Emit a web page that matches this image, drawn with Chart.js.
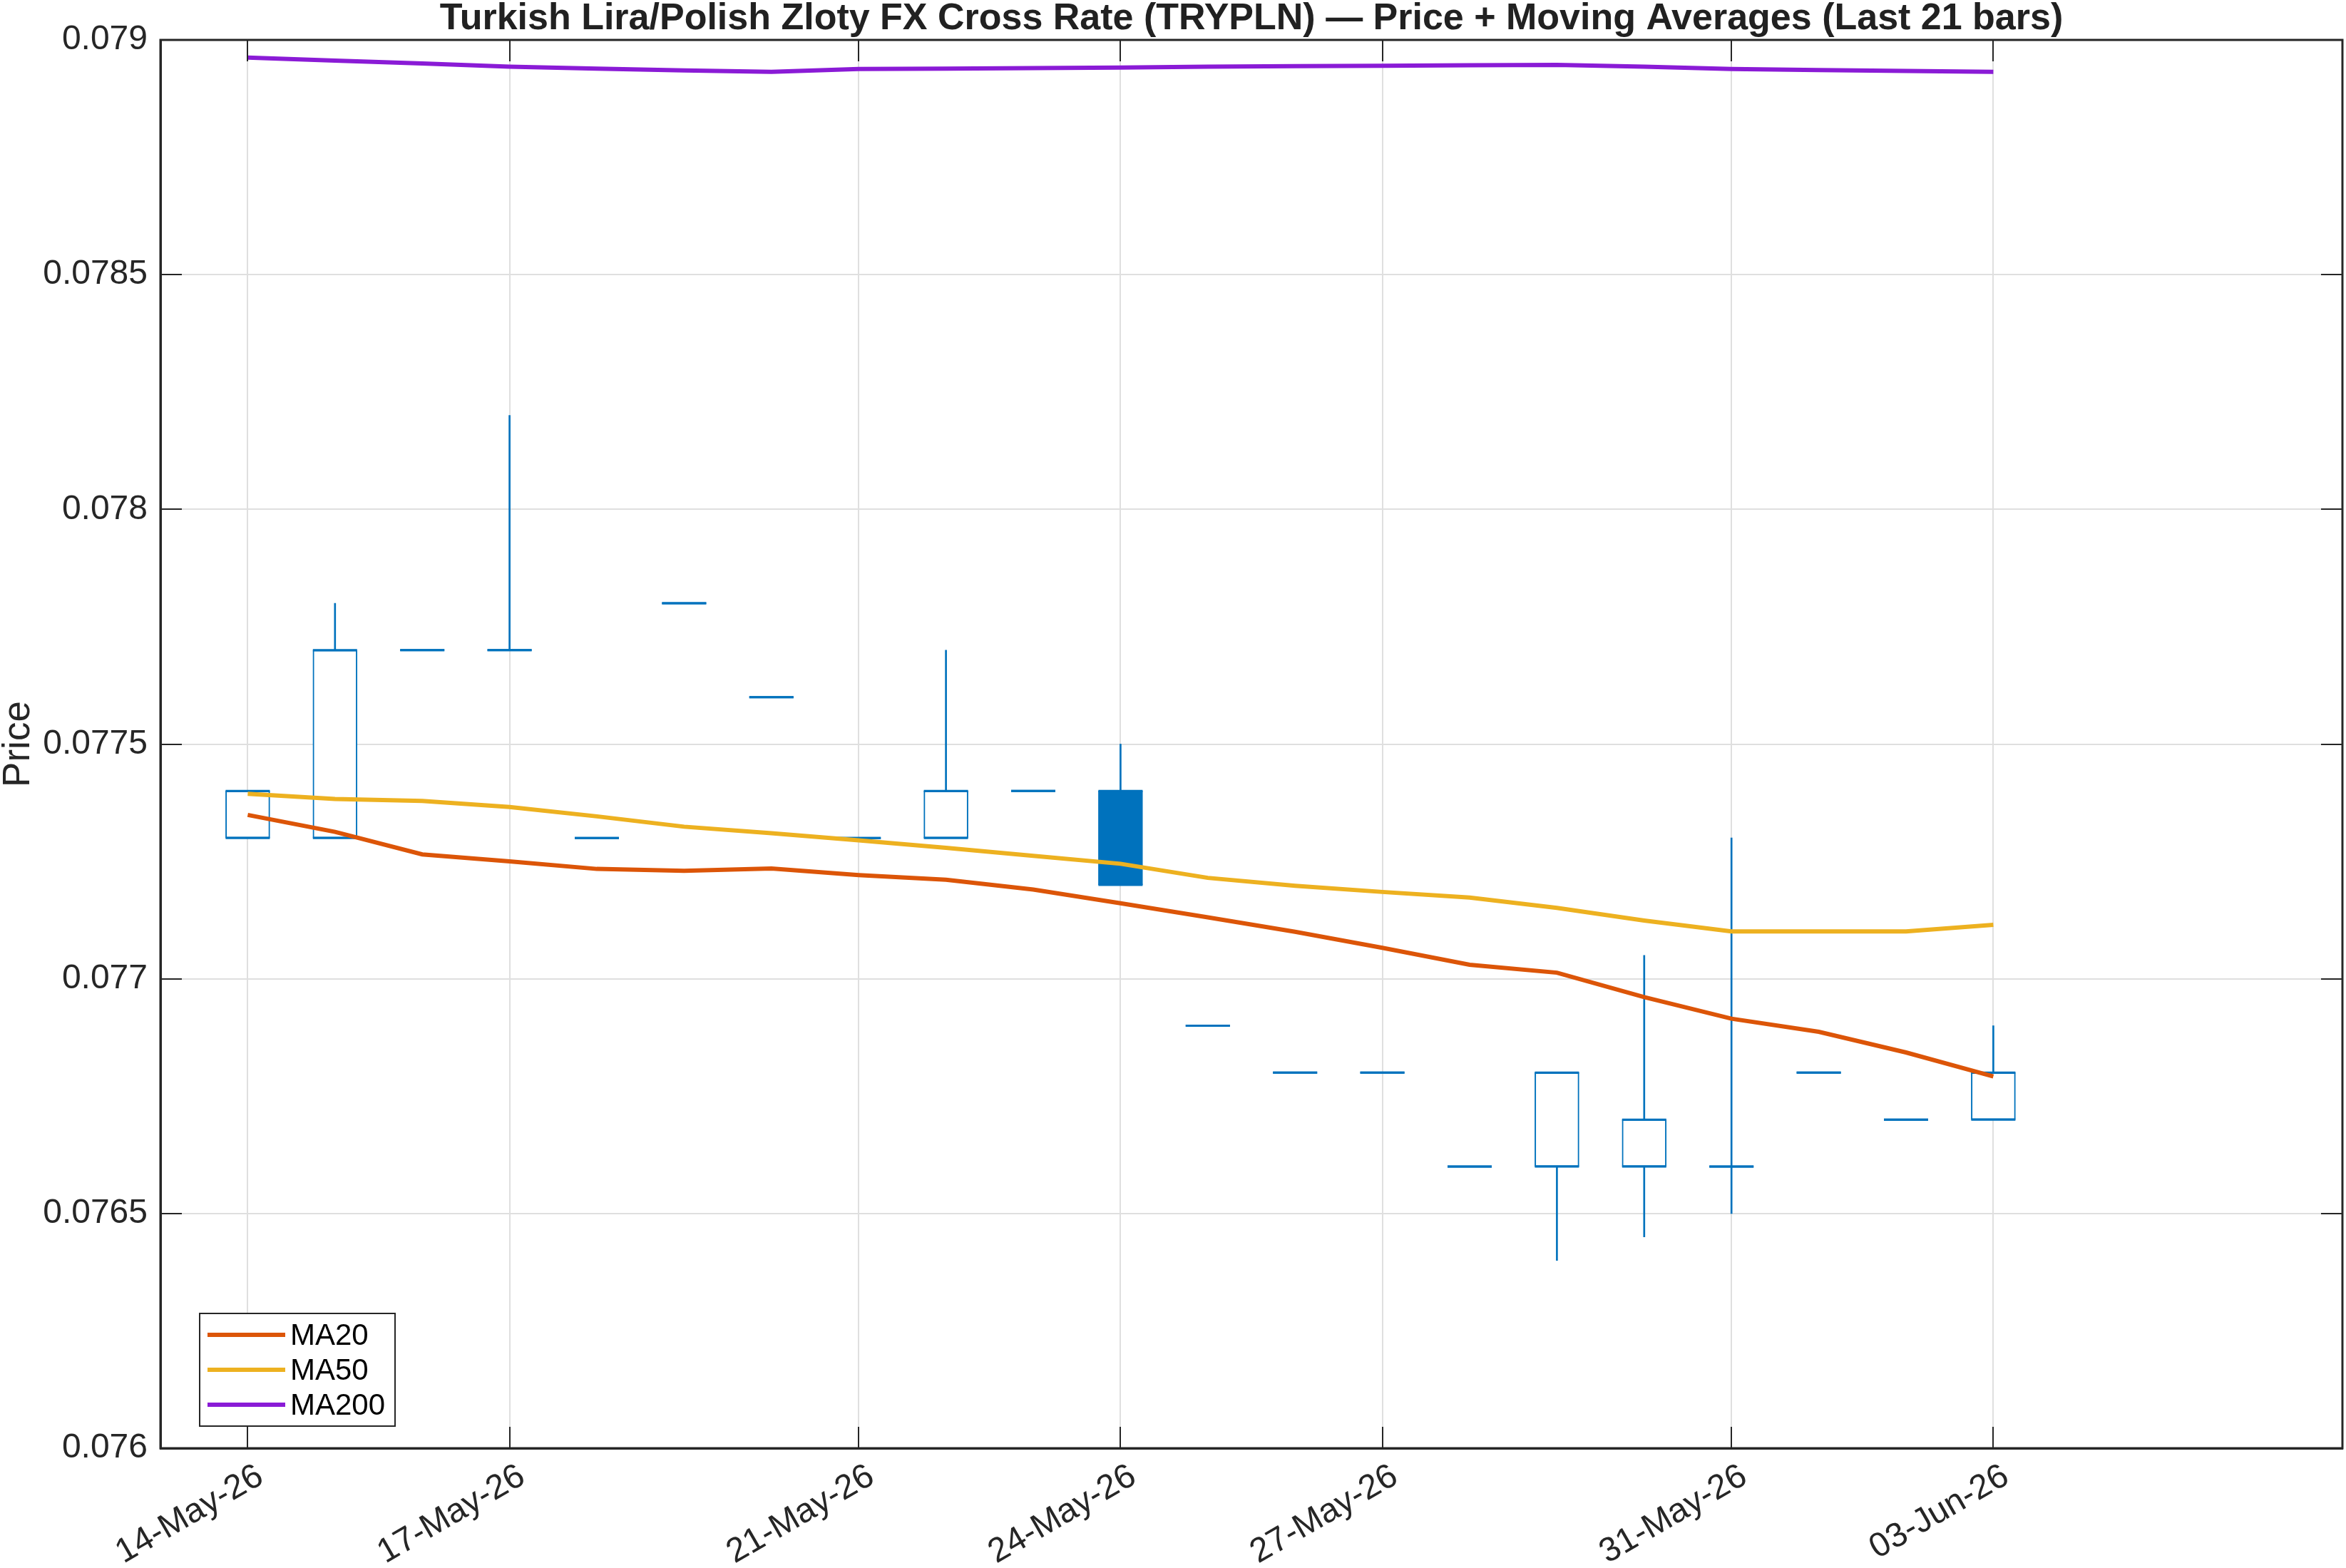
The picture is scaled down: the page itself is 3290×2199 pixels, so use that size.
<!DOCTYPE html>
<html>
<head>
<meta charset="utf-8">
<script src="https://cdn.jsdelivr.net/npm/chart.js@4/dist/chart.umd.min.js"></script>
<style>
html,body{margin:0;padding:0;background:#fff;overflow:hidden;}
canvas{display:block;}
</style>
</head>
<body>
<canvas id="c" width="3290" height="2199"></canvas>
<script>
const dates = ['14-May-26','15-May-26','16-May-26','17-May-26','18-May-26','19-May-26','20-May-26',
  '21-May-26','22-May-26','23-May-26','24-May-26','25-May-26','26-May-26','27-May-26','28-May-26',
  '29-May-26','30-May-26','31-May-26','01-Jun-26','02-Jun-26','03-Jun-26'];
const tickDates = ['14-May-26','17-May-26','21-May-26','24-May-26','27-May-26','31-May-26','03-Jun-26'];
const yTicks = [0.076,0.0765,0.077,0.0775,0.078,0.0785,0.079];

const openP  = [0.0773,0.0773,0.0777,0.0777,0.0773,0.0778,0.0776,0.0773,0.0773,0.0774,0.0774,0.0769,0.0768,0.0768,0.0766,0.0766,0.0766,0.0766,0.0768,0.0767,0.0767];
const closeP = [0.0774,0.0777,0.0777,0.0777,0.0773,0.0778,0.0776,0.0773,0.0774,0.0774,0.0772,0.0769,0.0768,0.0768,0.0766,0.0768,0.0767,0.0766,0.0768,0.0767,0.0768];
const highP  = [0.0774,0.0778,0.0777,0.0782,0.0773,0.0778,0.0776,0.0773,0.0777,0.0774,0.0775,0.0769,0.0768,0.0768,0.0766,0.0768,0.07705,0.0773,0.0768,0.0767,0.0769];
const lowP   = [0.0773,0.0773,0.0777,0.0777,0.0773,0.0778,0.0776,0.0773,0.0773,0.0774,0.0772,0.0769,0.0768,0.0768,0.0766,0.0764,0.07645,0.0765,0.0768,0.0767,0.0767];

const ma20  = [0.077349,0.077313,0.077265,0.07725,0.077234,0.07723,0.077235,0.077221,0.077211,0.07719,0.077161,0.077131,0.0771,0.077066,0.07703,0.077013,0.076961,0.076915,0.076887,0.076843,0.076792];
const ma50  = [0.077394,0.077383,0.077379,0.077366,0.077346,0.077324,0.07731,0.077295,0.077279,0.077262,0.077245,0.077215,0.077198,0.077185,0.077173,0.077151,0.077124,0.077101,0.077101,0.077101,0.077115];
const ma200 = [0.0789625,0.078956,0.07895,0.078943,0.078939,0.078935,0.078932,0.078938,0.078939,0.07894,0.078941,0.078943,0.078944,0.078945,0.078946,0.078947,0.078943,0.078938,0.078936,0.078934,0.078932];

const seriesNames = ['MA20','MA50','MA200'];
const seriesColors = ['#DC5508','#EDB120','#8A1BD6'];
const candleColor = '#0072BD';
const FONT = '"Liberation Sans", Arial, Helvetica, sans-serif';
const AXIS = '#262626';

const xy = arr => arr.map((v,i)=>({x:i, y:v}));
const tickIdx = tickDates.map(d => dates.indexOf(d));

const boxPlugin = {
  id: 'matlabBox',
  afterDraw(chart){
    const {ctx, chartArea:a, scales} = chart;
    ctx.save();
    ctx.strokeStyle = AXIS;
    ctx.lineWidth = 2;
    ctx.beginPath();
    yTicks.forEach(v=>{
      const y = Math.round(scales.y.getPixelForValue(v));
      ctx.moveTo(a.left, y); ctx.lineTo(a.left+30, y);
      ctx.moveTo(a.right, y); ctx.lineTo(a.right-30, y);
    });
    tickIdx.forEach(i=>{
      const x = Math.round(scales.x.getPixelForValue(i));
      ctx.moveTo(x, a.bottom); ctx.lineTo(x, a.bottom-30);
      ctx.moveTo(x, a.top); ctx.lineTo(x, a.top+30);
    });
    ctx.stroke();
    ctx.lineWidth = 3;
    ctx.strokeRect(a.left, a.top, a.right-a.left, a.bottom-a.top);
    // legend
    const lx = 280, ly = 1842, lw = 274, lh = 158;
    ctx.fillStyle = '#fff';
    ctx.fillRect(lx, ly, lw, lh);
    ctx.lineWidth = 2;
    ctx.strokeStyle = AXIS;
    ctx.strokeRect(lx, ly, lw, lh);
    ctx.font = '42px ' + FONT;
    ctx.textBaseline = 'middle';
    ctx.textAlign = 'left';
    seriesNames.forEach((n,k)=>{
      const yy = ly + 30 + k*49;
      ctx.strokeStyle = seriesColors[k];
      ctx.lineWidth = 6;
      ctx.beginPath(); ctx.moveTo(lx+11, yy); ctx.lineTo(lx+120, yy); ctx.stroke();
      ctx.fillStyle = '#000';
      ctx.fillText(n, lx+127, yy+2);
    });
    ctx.restore();
  }
};

new Chart(document.getElementById('c'), {
  type: 'bar',
  data: {
    datasets: [
      {type:'line', label:'MA20', data: xy(ma20), borderColor: seriesColors[0], borderWidth:6, pointRadius:0, fill:false, tension:0},
      {type:'line', label:'MA50', data: xy(ma50), borderColor: seriesColors[1], borderWidth:6, pointRadius:0, fill:false, tension:0},
      {type:'line', label:'MA200', data: xy(ma200), borderColor: seriesColors[2], borderWidth:6, pointRadius:0, fill:false, tension:0},
      {type:'line', label:'open', data: xy(openP), showLine:false, pointStyle:'line', pointRadius:31, pointBorderWidth:3, pointBorderColor: candleColor, borderColor: candleColor},
      {type:'line', label:'close', data: xy(closeP), showLine:false, pointStyle:'line', pointRadius:31, pointBorderWidth:3, pointBorderColor: candleColor, borderColor: candleColor},
      {type:'bar', label:'body', data: openP.map((o,i)=>({x:i, y:[o, closeP[i]]})),
        backgroundColor: openP.map((o,i)=> closeP[i] < o ? candleColor : '#ffffff'),
        borderColor: candleColor, borderWidth: 2, borderSkipped: false, barThickness: 62, grouped:false},
      {type:'bar', label:'wick', data: lowP.map((l,i)=>({x:i, y:[l, highP[i]]})),
        backgroundColor: candleColor, borderWidth:0, barThickness: 2, grouped:false}
    ]
  },
  options: {
    responsive: false,
    animation: false,
    devicePixelRatio: 1,
    layout: {autoPadding:false, padding: {left:0, right:5, top:0, bottom:0}},
    plugins: {
      legend: {display:false},
      tooltip: {enabled:false},
      title: {display:true, fullSize:false, text:'Turkish Lira/Polish Zloty FX Cross Rate (TRYPLN) \u2014 Price + Moving Averages (Last 21 bars)',
        color:'#212121', font:{family:FONT, size:52, weight:'bold', lineHeight:1.0}, padding:{top:1, bottom:3}}
    },
    scales: {
      x: {
        type:'linear', offset:false, min:-1, max:24,
        afterBuildTicks: s => { s.ticks = tickIdx.map(v=>({value:v})); },
        afterFit: s => { s.height = 168; s.paddingRight = 0; s.paddingLeft = 0; },
        ticks: {autoSkip:false, minRotation:30, maxRotation:30, color:AXIS, padding:11, labelOffset:18,
          font:{family:FONT, size:48}, callback: v => dates[v] ?? ''},
        grid: {color:'#DFDFDF', lineWidth:2, drawTicks:false, tickLength:0, offset:false},
        border: {display:true, color:AXIS, width:3}
      },
      y: {
        min:0.076, max:0.079,
        afterBuildTicks: s => { s.ticks = yTicks.map(v=>({value:v})); },
        afterFit: s => { s.width = 225; },
        ticks: {color:AXIS, padding:18, font:{family:FONT, size:48},
          callback: v => String(Number(v.toFixed(4)))},
        grid: {color:'#DFDFDF', lineWidth:2, drawTicks:false, tickLength:0, offset:false},
        border: {display:true, color:AXIS, width:3},
        title: {display:true, text:'Price', color:AXIS, font:{family:FONT, size:53, lineHeight:1.0}, padding:{top:0,bottom:0}}
      }
    }
  },
  plugins: [boxPlugin]
});
</script>
</body>
</html>
